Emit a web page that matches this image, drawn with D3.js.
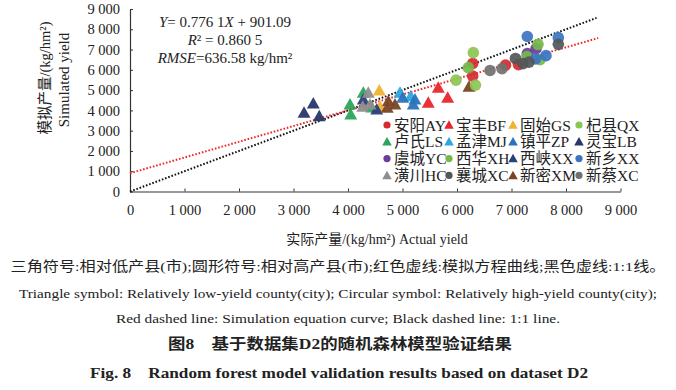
<!DOCTYPE html>
<html>
<head>
<meta charset="utf-8">
<script src="https://cdn.jsdelivr.net/npm/d3@7"></script>
<style>
  body { margin: 0; background: #fff; }
  svg { display: block; }
  text { font-family: "Liberation Serif", "Noto Sans CJK SC", serif; fill: #222; }
</style>
</head>
<body>
<svg id="plot" width="676" height="390"></svg>
<script>
// county names and markers, same order as legend (row by row)
const COUNTIES = ['安阳AY', '宝丰BF', '固始GS', '杞县QX',
                  '卢氏LS', '孟津MJ', '镇平ZP', '灵宝LB',
                  '虞城YC', '西华XH', '西峡XX', '新乡XX',
                  '潢川HC', '襄城XC', '新密XM', '新蔡XC'];
const SHAPES = ['circle', 'triangle', 'triangle', 'circle',
                'triangle', 'triangle', 'triangle', 'triangle',
                'circle', 'circle', 'triangle', 'circle',
                'triangle', 'circle', 'triangle', 'circle'];
const COLORS = ['#d52a30', '#e8262b', '#f2b232', '#8dc553',
                '#2ba55b', '#2ba8e0', '#2a74bb', '#28366a',
                '#6a3d9a', '#76b84a', '#2b3f7a', '#3b73c2',
                '#8e8e8e', '#545659', '#7a4424', '#717171'];

// actual yield (x) and simulated yield (y), kg/hm2, per county
const ACTUAL = {
  '安阳AY': [6288, 6288, 6890, 7128],
  '宝丰BF': [5473, 5657, 5829],
  '固始GS': [4574, 4587],
  '杞县QX': [5982, 6299, 6339],
  '卢氏LS': [4037, 4050, 4281, 4435],
  '孟津MJ': [4954, 5150],
  '镇平ZP': [5004, 5229, 5198],
  '灵宝LB': [3363, 3193, 3473],
  '虞城YC': [7290, 7450],
  '西华XH': [6207, 7284, 7486, 7523],
  '西峡XX': [4281, 4527],
  '新乡XX': [7290, 7440, 7633, 7859],
  '潢川HC': [4372, 4270, 4404],
  '襄城XC': [7073, 7211, 7321, 7859],
  '新密XM': [4740, 4721, 4862, 6220],
  '新蔡XC': [6606, 6826]
};
const SIMULATED = {
  '安阳AY': [6315, 5690, 6232, 6256],
  '宝丰BF': [4345, 5084, 4591],
  '固始GS': [4951, 4148],
  '杞县QX': [5493, 6847, 5246],
  '卢氏LS': [4261, 3768, 4837, 4113],
  '孟津MJ': [4837, 4670],
  '镇平ZP': [4591, 4507, 4261],
  '灵宝LB': [4310, 3852, 3685],
  '虞城YC': [6798, 7044],
  '西华XH': [6108, 6650, 7256, 6502],
  '西峡XX': [4507, 4015],
  '新乡XX': [7645, 6537, 6700, 7586],
  '潢川HC': [4837, 4148, 4261],
  '襄城XC': [6562, 6305, 6379, 7256],
  '新密XM': [4424, 4099, 4261, 5133],
  '新蔡XC': [5970, 6059]
};

const TICKS = [0, 1000, 2000, 3000, 4000, 5000, 6000, 7000, 8000, 9000];
const SLOPE = 0.7761, INTERCEPT = 901.09;
const LINE_END = 8560;

const EQUATION = ['Y= 0.776 1X + 901.09', 'R² = 0.860 5', 'RMSE=636.58 kg/hm²'];
const CAPTIONS = [
  '三角符号:相对低产县(市);圆形符号:相对高产县(市);红色虚线:模拟方程曲线;黑色虚线:1:1线。',
  'Triangle symbol: Relatively low-yield county(city); Circular symbol: Relatively high-yield county(city);',
  'Red dashed line: Simulation equation curve; Black dashed line: 1:1 line.'
];

const svg = d3.select('#plot');
const x = d3.scaleLinear().domain([0, 9000]).range([130, 620.5]);
const y = d3.scaleLinear().domain([0, 9000]).range([191.5, 9]);
const fmt = d => d3.format(',')(d).replace(/,/g, ' ');

// axes
const gx = svg.append('g').attr('transform', `translate(0,${y(0)})`)
  .call(d3.axisBottom(x).tickValues(TICKS).tickFormat(fmt).tickSizeInner(-3).tickSizeOuter(0).tickPadding(13));
const gy = svg.append('g').attr('transform', `translate(${x(0)},0)`)
  .call(d3.axisLeft(y).tickValues(TICKS).tickFormat(fmt).tickSizeInner(-3).tickSizeOuter(0).tickPadding(10));
[gx, gy].forEach(g => {
  g.attr('font-family', null);
  g.select('.domain').attr('stroke', '#333').attr('stroke-width', 1.2);
  g.selectAll('.tick line').attr('stroke', '#333');
  g.selectAll('.tick text').attr('font-size', 14.5).attr('fill', '#222');
});

// 1:1 line and fitted line
svg.append('line')
  .attr('x1', x(0)).attr('y1', y(0)).attr('x2', x(LINE_END)).attr('y2', y(LINE_END))
  .attr('stroke', '#111').attr('stroke-width', 2).attr('stroke-dasharray', '1.6,1.8');
svg.append('line')
  .attr('x1', x(0)).attr('y1', y(INTERCEPT)).attr('x2', x(LINE_END + 30)).attr('y2', y(SLOPE * (LINE_END + 30) + INTERCEPT))
  .attr('stroke', '#f0282a').attr('stroke-width', 2).attr('stroke-dasharray', '1.6,1.8');

// points
const points = [];
COUNTIES.forEach((c, i) => {
  ACTUAL[c].forEach((a, k) => points.push({ county: c, x: a, y: SIMULATED[c][k], shape: SHAPES[i], color: COLORS[i] }));
});
const triPath = s => `M0,${-s * 0.62}L${s * 0.56},${s * 0.38}L${-s * 0.56},${s * 0.38}Z`;

// triangles behind circles
const tri = points.filter(p => p.shape === 'triangle');
const cir = points.filter(p => p.shape === 'circle');
svg.append('g').selectAll('path').data(tri).enter().append('path')
  .attr('d', triPath(11.5))
  .attr('transform', d => `translate(${x(d.x)},${y(d.y)})`)
  .attr('fill', d => d.color).attr('opacity', 0.95);
svg.append('g').selectAll('circle').data(cir).enter().append('circle')
  .attr('cx', d => x(d.x)).attr('cy', d => y(d.y)).attr('r', 5.8)
  .attr('fill', d => d.color).attr('opacity', 0.92);

// equation
svg.append('g').selectAll('text').data(EQUATION).enter().append('text')
  .attr('x', 225).attr('y', (d, i) => 27 + i * 18)
  .attr('text-anchor', 'middle').attr('font-size', 15)
  .each(function (d, i) {
    const t = d3.select(this);
    if (i === 0) {
      t.append('tspan').attr('font-style', 'italic').text('Y');
      t.append('tspan').text('= 0.776 1');
      t.append('tspan').attr('font-style', 'italic').text('X');
      t.append('tspan').text(' + 901.09');
    } else if (i === 1) {
      t.append('tspan').attr('font-style', 'italic').text('R');
      t.append('tspan').text('² = 0.860 5');
    } else {
      t.append('tspan').attr('font-style', 'italic').text('RMSE');
      t.append('tspan').text('=636.58 kg/hm²');
    }
  });

// legend
const legend = svg.append('g');
const colX = [387, 449, 513, 579];
COUNTIES.forEach((c, i) => {
  const cx = colX[i % 4], cy = 125 + Math.floor(i / 4) * 16.8;
  if (SHAPES[i] === 'circle') {
    legend.append('circle').attr('cx', cx).attr('cy', cy).attr('r', 3.6).attr('fill', COLORS[i]);
  } else {
    legend.append('path').attr('d', triPath(8.5)).attr('transform', `translate(${cx},${cy + 0.5})`).attr('fill', COLORS[i]);
  }
  legend.append('text').attr('x', cx + 7).attr('y', cy + 5.5).attr('font-size', 15.5).text(c);
});

// axis titles
svg.append('text').attr('x', 377).attr('y', 244).attr('text-anchor', 'middle').attr('font-size', 14)
  .text('实际产量/(kg/hm²) Actual yield');
svg.append('text').attr('transform', 'translate(50,78) rotate(-90)').attr('text-anchor', 'middle').attr('font-size', 14.5)
  .text('模拟产量/(kg/hm²)');
svg.append('text').attr('transform', 'translate(69,80) rotate(-90)').attr('text-anchor', 'middle').attr('font-size', 15)
  .text('Simulated yield');

// captions
const capW = [655, 638, 444];
svg.append('g').selectAll('text').data(CAPTIONS).enter().append('text')
  .attr('x', 338).attr('y', (d, i) => [271, 298, 323][i])
  .attr('text-anchor', 'middle').attr('font-size', 13.5)
  .attr('textLength', (d, i) => capW[i]).attr('lengthAdjust', 'spacingAndGlyphs')
  .text(d => d);
svg.append('text').attr('x', 340).attr('y', 349).attr('text-anchor', 'middle')
  .attr('font-size', 14.5).attr('font-weight', 'bold')
  .attr('textLength', 344).attr('lengthAdjust', 'spacingAndGlyphs')
  .text('图8　基于数据集D2的随机森林模型验证结果');
svg.append('text').attr('x', 339).attr('y', 378).attr('text-anchor', 'middle')
  .attr('font-size', 15).attr('font-weight', 'bold')
  .attr('textLength', 498).attr('lengthAdjust', 'spacingAndGlyphs')
  .text('Fig. 8　Random forest model validation results based on dataset D2');
</script>
</body>
</html>
